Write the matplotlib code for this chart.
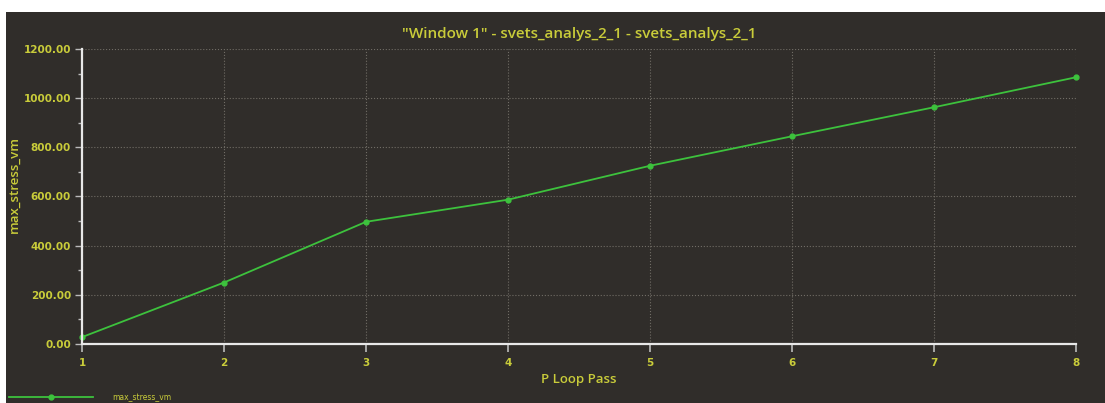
import matplotlib
matplotlib.use("Agg")
import matplotlib.pyplot as plt
from matplotlib.patches import Rectangle
from matplotlib.ticker import MultipleLocator, FormatStrFormatter

passes = [1, 2, 3, 4, 5, 6, 7, 8]
max_stress_vm = [28, 250, 497, 587, 725, 845, 963, 1085]

bg = "#302d2a"
txt = "#c9cc3a"
green = "#3dc23d"

fig = plt.figure(figsize=(11.05, 4.03), dpi=100)
fig.patch.set_facecolor("white")
fig.patches.append(Rectangle((6 / 1105, 0), 1, 1 - 12 / 403, transform=fig.transFigure,
                             facecolor=bg, edgecolor="none", zorder=-1))

ax = fig.add_axes([82 / 1105, 59 / 403, 994 / 1105, 295 / 403])
ax.set_facecolor(bg)
ax.plot(passes, max_stress_vm, "-", color=green, lw=1.3, marker="o", ms=3.5,
        label="max_stress_vm", clip_on=False)

ax.set_xlim(1, 8)
ax.set_ylim(0, 1200)
ax.xaxis.set_major_locator(MultipleLocator(1))
ax.yaxis.set_major_locator(MultipleLocator(200))
ax.yaxis.set_minor_locator(MultipleLocator(100))
ax.yaxis.set_major_formatter(FormatStrFormatter("%.2f"))

for s in ["top", "right"]:
    ax.spines[s].set_visible(False)
for s in ["left", "bottom"]:
    ax.spines[s].set_color("#e8e8e8")
    ax.spines[s].set_linewidth(1.6)

ax.tick_params(axis="both", which="both", colors="#bbbbbb", labelcolor=txt,
               labelsize=7.5, direction="out")
ax.tick_params(axis="x", length=6, width=1.2, pad=4)
ax.tick_params(axis="y", which="major", length=5, width=1, pad=3)
ax.tick_params(axis="y", which="minor", length=3, width=1)
for lbl in ax.get_xticklabels() + ax.get_yticklabels():
    lbl.set_fontweight("semibold")

ax.grid(True, which="major", color="#716d66", linestyle=":", linewidth=0.8)

ax.set_title('"Window 1" - svets_analys_2_1 - svets_analys_2_1', color=txt,
             fontsize=11, family="Open Sans", fontweight="semibold", pad=8)
ax.set_xlabel("P Loop Pass", color=txt, fontsize=9.5, family="Open Sans",
              fontweight="semibold", labelpad=4)
ax.set_ylabel("max_stress_vm", color=txt, fontsize=9.5, family="Open Sans",
              fontweight="semibold", labelpad=2)
ax.yaxis.set_label_coords(-0.062, 0.54)

leg = fig.legend(loc="lower left", bbox_to_anchor=(0.002, -0.015), frameon=False,
                 handlelength=11, fontsize=5.5, labelcolor=txt, handletextpad=2.5)

fig.savefig("out.png", dpi=100, facecolor=fig.get_facecolor())
